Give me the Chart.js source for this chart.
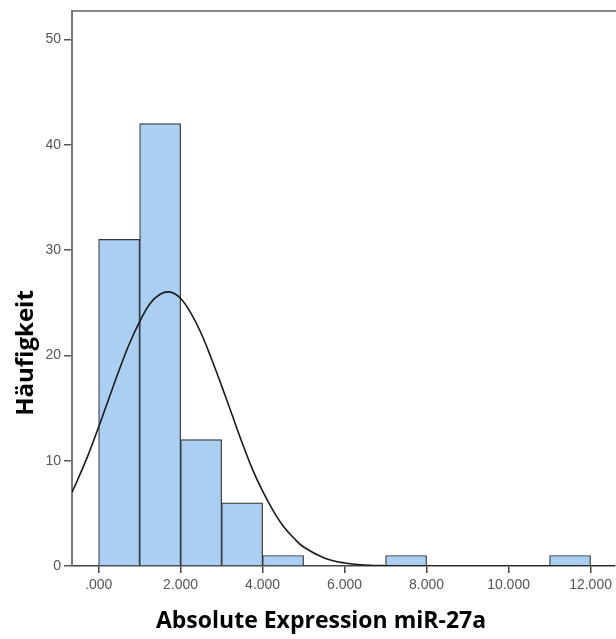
<!DOCTYPE html>
<html>
<head>
<meta charset="utf-8">
<script src="https://cdn.jsdelivr.net/npm/chart.js@4"></script>
<style>
  html, body { margin: 0; padding: 0; background: #fff; overflow: hidden; }
</style>
</head>
<body>
<canvas id="chart" width="616" height="639"></canvas>
<script>
// histogram bins (bin width 1.000), only non-empty bins
const binCenters = [500, 1500, 2500, 3500, 4500, 7500, 11500];
const binCounts = [31, 42, 12, 6, 1, 1, 1];

// normal curve
const curveX = [-650, -500, -250, 0, 250, 500, 750, 1000, 1250, 1500, 1750, 2000, 2250, 2500,
  2750, 3000, 3250, 3500, 3750, 4000, 4250, 4500, 4750, 5000, 5500, 6000, 6500, 7000, 8000, 12600];
const curveY = [7.0, 8.3, 10.6, 13.2, 15.9, 18.6, 21.1, 23.2, 24.9, 25.8, 26.0, 25.4, 24.0, 22.1,
  19.7, 17.1, 14.4, 11.7, 9.2, 7.1, 5.3, 3.8, 2.7, 1.8, 0.77, 0.29, 0.1, 0.03, 0, 0];

const xTicks = [0, 2000, 4000, 6000, 8000, 10000, 12000];
const xTickLabels = ['.000', '2.000', '4.000', '6.000', '8.000', '10.000', '12.000'];
const yTicks = [0, 10, 20, 30, 40, 50];

const xTitle = 'Absolute Expression miR-27a';
const yTitle = 'Häufigkeit';

const tickFont = { family: 'Liberation Sans', size: 14 };

const axisTitles = {
  id: 'axisTitles',
  afterDraw(chart) {
    const ctx = chart.ctx;
    ctx.save();
    ctx.fillStyle = '#000';
    ctx.textAlign = 'center';
    ctx.textBaseline = 'alphabetic';
    ctx.font = 'bold 23px "Open Sans"';
    ctx.fillText(xTitle, 321, 628);
    ctx.font = 'bold 24px "Open Sans"';
    ctx.translate(33, 353);
    ctx.rotate(-Math.PI / 2);
    ctx.fillText(yTitle, 0, 0);
    ctx.restore();
  }
};

new Chart(document.getElementById('chart'), {
  type: 'bar',
  data: {
    datasets: [{
      type: 'line',
      data: curveX.map((x, i) => ({ x, y: curveY[i] })),
      borderColor: '#1a1a1a',
      borderWidth: 1.6,
      pointRadius: 0,
      tension: 0.4,
      fill: false
    }, {
      type: 'bar',
      data: binCenters.map((x, i) => ({ x, y: binCounts[i] })),
      backgroundColor: '#aacff2',
      borderColor: '#333',
      borderWidth: 1.2,
      barPercentage: 1,
      categoryPercentage: 1
    }]
  },
  options: {
    responsive: false,
    animation: false,
    layout: { padding: 0 },
    plugins: { legend: { display: false }, tooltip: { enabled: false } },
    scales: {
      x: {
        type: 'linear',
        position: 'bottom',
        min: -650,
        max: 12600,
        offset: false,
        afterBuildTicks: s => { s.ticks = xTicks.map(v => ({ value: v })); },
        afterFit: s => { s.height = 73; },
        grid: { offset: false, drawOnChartArea: false, drawTicks: true, tickLength: 7, tickColor: '#444', lineWidth: 1.5 },
        border: { color: '#444', width: 1.5 },
        ticks: { font: tickFont, color: '#555', padding: 4, maxRotation: 0, autoSkip: false,
          callback: (v, i) => xTickLabels[i] }
      },
      top: {
        type: 'linear',
        position: 'top',
        display: true,
        afterFit: s => { s.height = 10; },
        grid: { display: false, drawTicks: false },
        border: { color: '#888', width: 2 },
        ticks: { display: false }
      },
      y: {
        type: 'linear',
        min: 0,
        max: 52.65,
        afterBuildTicks: s => { s.ticks = yTicks.map(v => ({ value: v })); },
        afterFit: s => { s.width = 72; },
        grid: { drawOnChartArea: false, drawTicks: true, tickLength: 8, tickColor: '#555', lineWidth: 1.5 },
        border: { color: '#777', width: 2 },
        ticks: { font: tickFont, color: '#555', padding: 3 }
      }
    }
  },
  plugins: [axisTitles]
});
</script>
</body>
</html>
